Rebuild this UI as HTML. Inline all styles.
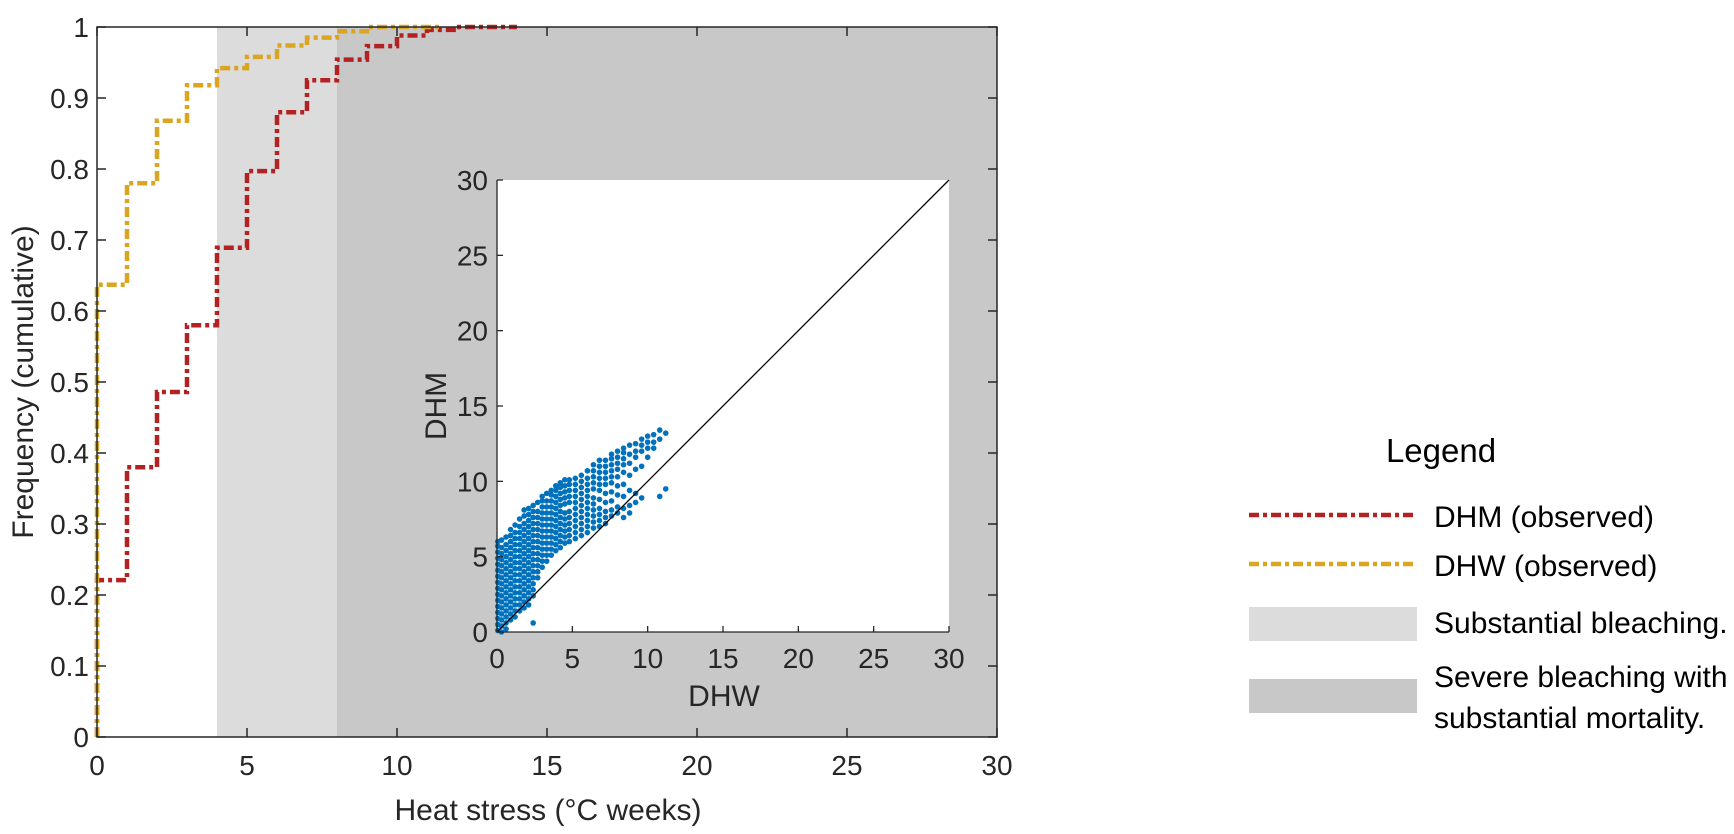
<!DOCTYPE html>
<html><head><meta charset="utf-8">
<style>
html,body{margin:0;padding:0;background:#fff;}
svg{display:block;font-family:"Liberation Sans",Arial,sans-serif;}
text{fill:#262626;}
</style></head>
<body>
<svg id="chart" width="1734" height="834" viewBox="0 0 1734 834" xmlns="http://www.w3.org/2000/svg">
<g id="main"></g>
<g id="inset"></g>
<g id="legend">
  <text x="1441" y="462" font-size="33" text-anchor="middle" style="fill:#000">Legend</text>
  <line x1="1249" y1="515" x2="1417" y2="515" stroke="#b22222" stroke-width="4.5" stroke-dasharray="10 4 4 4"/>
  <text x="1434" y="527" font-size="30" style="fill:#000">DHM (observed)</text>
  <line x1="1249" y1="564" x2="1417" y2="564" stroke="#daa520" stroke-width="4.5" stroke-dasharray="10 4 4 4"/>
  <text x="1434" y="576" font-size="30" style="fill:#000">DHW (observed)</text>
  <rect x="1249" y="607" width="168" height="34" fill="#dcdcdc"/>
  <text x="1434" y="633" font-size="30" style="fill:#000">Substantial bleaching.</text>
  <rect x="1249" y="679" width="168" height="34" fill="#c8c8c8"/>
  <text x="1434" y="687" font-size="30" style="fill:#000">Severe bleaching with</text>
  <text x="1434" y="728" font-size="30" style="fill:#000">substantial mortality.</text>
</g>
</svg>
<script>
// Main chart data
const xTicks = [0,5,10,15,20,25,30];
const yTicks = [0,0.1,0.2,0.3,0.4,0.5,0.6,0.7,0.8,0.9,1];
const yTickLabels = ["0","0.1","0.2","0.3","0.4","0.5","0.6","0.7","0.8","0.9","1"];
const dhmStepX = [0,1,2,3,4,5,6,7,8,9,10,11,12,14];
const dhmStepY = [0.221,0.38,0.486,0.58,0.689,0.797,0.88,0.925,0.954,0.973,0.988,0.996,1.0,1.0];
const dhwStepX = [0,1,2,3,4,5,6,7,8,9,11.5];
const dhwStepY = [0.637,0.78,0.868,0.918,0.942,0.958,0.974,0.985,0.994,1.0,1.0];
const bands = [[4,8,"#dcdcdc","band-substantial-bleaching"],[8,30,"#c8c8c8","band-severe-bleaching"]];
// Inset data
const insetTicks = [0,5,10,15,20,25,30];
const scatterX = [0.05,0.3,0.6,0.9,1.2,1.5,1.8,2.1,2.4,2.7,3.0,3.3,3.6,3.9,4.2,4.5,4.8,5.2,5.6,6.0,6.4,6.8,7.2,7.6,8.0,8.4,8.8,9.2,9.6,10.0,10.4,10.8,11.2];
const scatterY = [
 [0.1,0.5,0.9,1.3,1.7,2.1,2.5,2.9,3.3,3.7,4.1,4.5,4.9,5.3,5.7,6.0],
 [0.0,0.4,0.8,1.2,1.6,2.0,2.4,2.8,3.2,3.6,4.0,4.4,4.8,5.2,5.6,6.1],
 [0.2,0.6,1.0,1.4,1.8,2.2,2.6,3.0,3.4,3.8,4.2,4.6,5.0,5.4,5.8,6.3],
 [0.8,1.2,1.6,2.0,2.4,2.8,3.2,3.6,4.0,4.4,4.8,5.2,5.6,6.0,6.4,6.8],
 [1.0,1.4,1.8,2.2,2.6,3.0,3.4,3.8,4.2,4.6,5.0,5.4,5.8,6.2,6.6,7.1],
 [1.4,1.8,2.2,2.6,3.0,3.4,3.8,4.2,4.6,5.0,5.4,5.8,6.2,6.6,7.0,7.5],
 [1.6,2.0,2.4,2.8,3.2,3.6,4.0,4.4,4.8,5.2,5.6,6.0,6.4,6.8,7.2,7.7,8.1],
 [1.8,2.2,2.6,3.0,3.4,3.8,4.2,4.6,5.0,5.4,5.8,6.2,6.6,7.0,7.4,7.8,8.2],
 [0.6,2.4,2.8,3.2,3.6,4.0,4.4,4.8,5.2,5.6,6.0,6.4,6.8,7.2,7.6,8.0,8.4],
 [3.6,4.0,4.4,4.8,5.2,5.6,6.0,6.4,6.8,7.2,7.6,8.0,8.6],
 [4.3,4.7,5.1,5.5,5.9,6.3,6.7,7.1,7.5,7.9,8.3,8.7,9.0],
 [4.7,5.1,5.5,5.9,6.3,6.7,7.1,7.5,7.9,8.3,8.7,9.2],
 [5.1,5.5,5.9,6.3,6.7,7.1,7.5,7.9,8.3,8.7,9.1,9.4],
 [5.4,5.8,6.2,6.6,7.0,7.4,7.8,8.2,8.6,9.0,9.4,9.7],
 [5.6,6.0,6.4,6.8,7.2,7.6,8.0,8.4,8.8,9.2,9.6,9.9],
 [5.9,6.3,6.7,7.1,7.5,7.9,8.5,8.9,9.3,9.7,10.1],
 [6.0,6.4,6.8,7.2,7.6,8.0,8.6,9.0,9.4,9.8,10.1],
 [6.2,6.6,7.0,7.4,7.8,8.2,8.6,9.0,9.4,9.8,10.2],
 [6.4,6.8,7.2,7.6,8.0,8.4,8.8,9.2,9.6,10.0,10.4],
 [6.6,7.0,7.4,7.8,8.2,8.6,9.0,9.4,9.8,10.2,10.7],
 [6.9,7.3,7.7,8.1,8.5,8.9,9.5,9.9,10.3,10.7,11.1],
 [7.0,7.4,7.8,8.2,8.8,9.4,9.8,10.2,10.6,11.0,11.4],
 [7.2,7.6,8.0,8.6,9.2,9.8,10.2,10.6,11.0,11.4],
 [7.7,8.1,8.7,9.3,9.9,10.3,10.7,11.1,11.5,11.8],
 [7.9,8.3,9.1,9.7,10.3,10.8,11.2,11.6,12.0],
 [7.6,8.2,9.0,9.8,10.6,11.1,11.5,11.9,12.2],
 [7.9,8.4,9.4,10.4,11.2,11.8,12.4],
 [8.6,9.2,10.8,11.6,12.0,12.5],
 [8.9,11.0,12.0,12.4,12.8],
 [11.6,12.2,12.6,13.0],
 [12.2,12.6,13.1],
 [9.0,12.8,13.4],
 [9.5,13.2]
];
const NS="http://www.w3.org/2000/svg";
function mk(tag,attrs,parent){const e=document.createElementNS(NS,tag);for(const k in attrs)e.setAttribute(k,attrs[k]);parent.appendChild(e);return e;}
// main axes
const X0=97,X1=997,Y0=737,Y1=27;
const sx=v=>X0+(v-0)/30*(X1-X0);
const sy=v=>Y0-(v-0)/1*(Y0-Y1);
const main=document.getElementById('main');
bands.forEach(b=>{
  const r=mk('rect',{x:sx(b[0]),y:Y1,width:sx(b[1])-sx(b[0]),height:Y0-Y1,fill:b[2]},main);
  
  
});
function stepPath(xs,ys){
  let d=`M${sx(xs[0])},${sy(0)}`;
  for(let i=0;i<xs.length;i++){
    d+=` L${sx(xs[i])},${sy(i===0?0:ys[i-1])} L${sx(xs[i])},${sy(ys[i])}`;
    if(i<xs.length-1) d+=` L${sx(xs[i+1])},${sy(ys[i])}`;
  }
  return d;
}
const dhm=mk('path',{d:stepPath(dhmStepX,dhmStepY),fill:'none',stroke:'#b22222','stroke-width':4.5,'stroke-dasharray':'10 4 4 4'},main);


const dhw=mk('path',{d:stepPath(dhwStepX,dhwStepY),fill:'none',stroke:'#daa520','stroke-width':4.5,'stroke-dasharray':'10 4 4 4'},main);


const box=mk('rect',{x:X0,y:Y1,width:X1-X0,height:Y0-Y1,fill:'none',stroke:'#262626','stroke-width':1.5},main);


xTicks.forEach(t=>{
  mk('line',{x1:sx(t),y1:Y0,x2:sx(t),y2:Y0-9,stroke:'#262626','stroke-width':1.5},main);
  mk('line',{x1:sx(t),y1:Y1,x2:sx(t),y2:Y1+9,stroke:'#262626','stroke-width':1.5},main);
  const tx=mk('text',{x:sx(t),y:775,'font-size':28,'text-anchor':'middle'},main);
  tx.textContent=t;
  
  
});
yTicks.forEach((t,i)=>{
  mk('line',{x1:X0,y1:sy(t),x2:X0+9,y2:sy(t),stroke:'#262626','stroke-width':1.5},main);
  mk('line',{x1:X1,y1:sy(t),x2:X1-9,y2:sy(t),stroke:'#262626','stroke-width':1.5},main);
  const tx=mk('text',{x:89,y:sy(t)+10,'font-size':28,'text-anchor':'end'},main);
  tx.textContent=yTickLabels[i];
  
  
});
const xl=mk('text',{x:548,y:820,'font-size':30,'text-anchor':'middle'},main);
xl.textContent='Heat stress (°C weeks)';


const yl=mk('text',{x:0,y:0,'font-size':30,'text-anchor':'middle',transform:'translate(33,382) rotate(-90)'},main);
yl.textContent='Frequency (cumulative)';


// inset
const IX0=497,IX1=949,IY0=632,IY1=180;
const ix=v=>IX0+v/30*(IX1-IX0);
const iy=v=>IY0-v/30*(IY0-IY1);
const inset=document.getElementById('inset');
const bg=mk('rect',{x:IX0,y:IY1,width:IX1-IX0,height:IY0-IY1,fill:'#fff'},inset);


scatterX.forEach((xv,i)=>{
  scatterY[i].forEach(yv=>{
    const c=mk('circle',{cx:ix(xv),cy:iy(yv),r:2.8,fill:'#0072bd'},inset);
    
    
  });
});
const diag=mk('line',{x1:ix(0),y1:iy(0),x2:ix(30),y2:iy(30),stroke:'#000','stroke-width':1.3},inset);


mk('line',{x1:IX0,y1:IY0,x2:IX1,y2:IY0,stroke:'#262626','stroke-width':1.3},inset);
mk('line',{x1:IX0,y1:IY0,x2:IX0,y2:IY1,stroke:'#262626','stroke-width':1.3},inset);
insetTicks.forEach(t=>{
  mk('line',{x1:ix(t),y1:IY0,x2:ix(t),y2:IY0-6,stroke:'#262626','stroke-width':1.3},inset);
  mk('line',{x1:IX0,y1:iy(t),x2:IX0+6,y2:iy(t),stroke:'#262626','stroke-width':1.3},inset);
  const a=mk('text',{x:ix(t),y:668,'font-size':28,'text-anchor':'middle'},inset);
  a.textContent=t;
  
  
  const b=mk('text',{x:488,y:iy(t)+10,'font-size':28,'text-anchor':'end'},inset);
  b.textContent=t;
  
  
});
const ixl=mk('text',{x:724,y:706,'font-size':30,'text-anchor':'middle'},inset);
ixl.textContent='DHW';


const iyl=mk('text',{x:0,y:0,'font-size':30,'text-anchor':'middle',transform:'translate(446,406) rotate(-90)'},inset);
iyl.textContent='DHM';


</script>
</body></html>
